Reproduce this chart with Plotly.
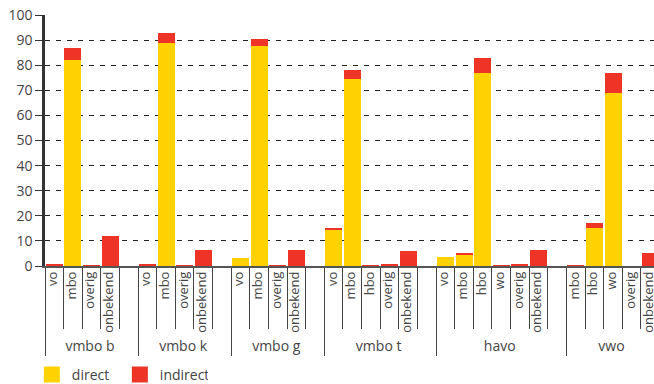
import plotly.graph_objects as go

# --- data -------------------------------------------------------------
group_names = ["vmbo b", "vmbo k", "vmbo g", "vmbo t", "havo", "vwo"]
categories = [
    ["vo", "mbo", "overig", "onbekend"],
    ["vo", "mbo", "overig", "onbekend"],
    ["vo", "mbo", "overig", "onbekend"],
    ["vo", "mbo", "hbo", "overig", "onbekend"],
    ["vo", "mbo", "hbo", "wo", "overig", "onbekend"],
    ["mbo", "hbo", "wo", "overig", "onbekend"],
]
direct_vals = [
    [0.3, 82, 0, 0],
    [0.3, 89, 0, 0],
    [3, 87.5, 0, 0],
    [14.5, 74.5, 0, 0, 0],
    [3.5, 4.2, 77, 0, 0, 0],
    [0, 15, 69, 0, 0],
]
indirect_vals = [
    [0.2, 5, 0.4, 12],
    [0.2, 4, 0.4, 6.5],
    [0, 3, 0.4, 6.5],
    [0.3, 3.5, 0.3, 0.6, 6],
    [0, 0.8, 6, 0.3, 0.6, 6.5],
    [0.3, 2, 8, 0, 5.2],
]
y_ticks = [0, 10, 20, 30, 40, 50, 60, 70, 80, 90, 100]

YELLOW = "#FFD200"
RED = "#EE3427"
ZW = "\u200b"  # invisible marker keeping inner labels unique per group (preserves order)


def lbl(t, size=13):
    return f"<span style='font-size:{size}px'>{t}</span>"


outer, inner, d_list, i_list = [], [], [], []
for gi, g in enumerate(group_names):
    for c, dv, iv in zip(categories[gi], direct_vals[gi], indirect_vals[gi]):
        outer.append(lbl(g, 14))
        inner.append(lbl(c + ZW * gi))
        d_list.append(dv)
        i_list.append(iv)
    if gi < len(group_names) - 1:
        outer.append(lbl(g, 14))
        inner.append(lbl(" " + ZW * gi))
        d_list.append(None)
        i_list.append(None)

fig = go.Figure()
fig.add_trace(go.Bar(x=[outer, inner], y=d_list, name="direct", showlegend=False,
                     marker=dict(color=YELLOW, line=dict(width=0))))
fig.add_trace(go.Bar(x=[outer, inner], y=i_list, name="indirect", showlegend=False,
                     marker=dict(color=RED, line=dict(width=0))))
# legend entries with large square swatches
for nm, col in [("direct", YELLOW), ("indirect", RED)]:
    fig.add_trace(go.Scatter(x=[None], y=[None], mode="markers", name=nm,
                             marker=dict(symbol="square", size=16, color=col),
                             showlegend=True))

fig.update_layout(
    barmode="stack",
    bargap=0.09,
    width=654, height=394,
    margin=dict(l=45, r=0, t=15, b=128),
    paper_bgcolor="white", plot_bgcolor="white",
    font=dict(family="Open Sans", size=13, color="#444"),
    legend=dict(orientation="h", x=-0.0216, xanchor="left", y=-0.434, yanchor="middle",
                font=dict(size=14, color="#444"), entrywidth=43,
                traceorder="normal"),
    xaxis=dict(
        type="multicategory",
        automargin=False,
        range=[-0.5, 32.2],
        tickangle=-90,
        showline=True, linecolor="#555", linewidth=2,
        ticks="outside", ticklen=61, tickcolor="#444", tickwidth=1,
        dividercolor="#444", dividerwidth=1,
        showgrid=False,
        tickfont=dict(size=9, color="#444"),
    ),
    yaxis=dict(
        automargin=False,
        range=[0, 100], tickvals=y_ticks,
        showline=True, linecolor="#333", linewidth=2.5,
        ticks="outside", ticklen=7, tickcolor="#333",
        showgrid=True, gridcolor="#222", gridwidth=1.2, griddash="5px,6px",
        zeroline=False,
        tickfont=dict(size=14, color="#444"),
    ),
)

fig.write_html(
    "out.html",
    config={"displayModeBar": False},
    post_script=("document.body.style.margin='0';document.body.style.padding='0';"
                 "document.body.style.overflow='hidden';"
                 "document.documentElement.style.overflow='hidden';"),
)
